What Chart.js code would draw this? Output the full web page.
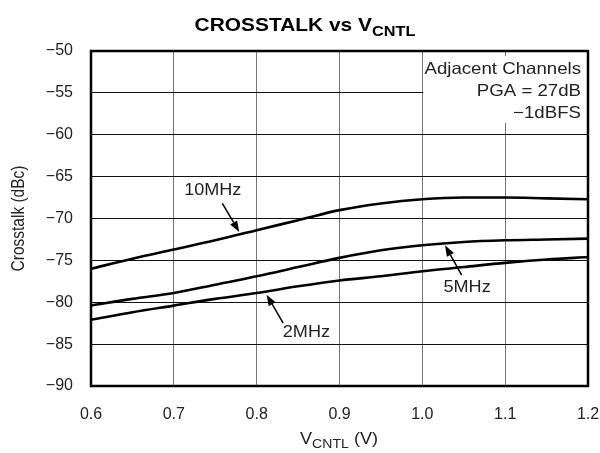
<!DOCTYPE html>
<html>
<head>
<meta charset="utf-8">
<script src="https://cdn.jsdelivr.net/npm/chart.js@4.4.0/dist/chart.umd.min.js"></script>
<style>
  html, body { margin: 0; padding: 0; background: #fff; }
  #wrap { width: 600px; height: 453px; }
</style>
</head>
<body>
<div id="wrap"><canvas id="chart" width="600" height="453"></canvas></div>
<script>
'use strict';
//****************************
// DATA
//****************************
var vcntl = [0.6, 0.65, 0.7, 0.75, 0.8, 0.85, 0.9, 0.95, 1.0, 1.05, 1.1, 1.15, 1.2];
var xt10MHz = [-76.0, -74.8, -73.7, -72.6, -71.4, -70.2, -69.0, -68.2, -67.7, -67.5, -67.5, -67.6, -67.7];
var xt5MHz = [-80.4, -79.6, -78.9, -77.9, -76.9, -75.8, -74.7, -73.8, -73.2, -72.8, -72.6, -72.5, -72.4];
var xt2MHz = [-82.1, -81.2, -80.4, -79.6, -78.9, -78.1, -77.4, -76.9, -76.3, -75.8, -75.3, -74.9, -74.6];
var seriesNames = ['10MHz', '5MHz', '2MHz'];
var noteLines = ['Adjacent Channels', 'PGA = 27dB', '\u22121dBFS'];

var FONT = '"Liberation Sans", Arial, Helvetica, sans-serif';
var STRETCH = 1.13; // the source text is a bit wide

function points(ys) {
  var out = [];
  for (var i = 0; i < vcntl.length; i++) {
    out.push({ x: vcntl[i], y: ys[i] });
  }
  return out;
}

function makeSet(label, ys) {
  return {
    label: label,
    data: points(ys),
    borderColor: '#000',
    borderWidth: 2.6,
    pointRadius: 0,
    tension: 0.4,
    cubicInterpolationMode: 'monotone',
    fill: false
  };
}

// plain text, widened a little
function wideText(ctx, text, x, y, align, size) {
  ctx.save();
  ctx.font = size + 'px ' + FONT;
  ctx.textAlign = align;
  ctx.textBaseline = 'middle';
  ctx.translate(x, y);
  ctx.scale(STRETCH, 1);
  ctx.fillText(text, 0, 0);
  ctx.restore();
}

// text with a subscript part, centred on cx
function subText(ctx, parts, cx, cy, size, bold) {
  var w = 0;
  var i;
  for (i = 0; i < parts.length; i++) {
    var s = parts[i].sub ? size * 0.78 : size;
    ctx.font = (bold ? 'bold ' : '') + s + 'px ' + FONT;
    parts[i].w = ctx.measureText(parts[i].t).width;
    parts[i].s = s;
    w += parts[i].w;
  }
  ctx.save();
  ctx.translate(cx, cy);
  ctx.scale(STRETCH, 1);
  var x = -w / 2;
  ctx.textBaseline = 'middle';
  ctx.textAlign = 'left';
  for (i = 0; i < parts.length; i++) {
    ctx.font = (bold ? 'bold ' : '') + parts[i].s + 'px ' + FONT;
    ctx.fillText(parts[i].t, x, parts[i].sub ? size * 0.3 : 0);
    x += parts[i].w;
  }
  ctx.restore();
}

function arrow(ctx, x1, y1, x2, y2) {
  var ang = Math.atan2(y2 - y1, x2 - x1);
  var len = 11;
  var hw = 4;
  var bx = x2 - Math.cos(ang) * len;
  var by = y2 - Math.sin(ang) * len;
  ctx.beginPath();
  ctx.moveTo(x1, y1);
  ctx.lineTo(bx, by);
  ctx.lineWidth = 1.5;
  ctx.strokeStyle = '#000';
  ctx.stroke();
  ctx.beginPath();
  ctx.moveTo(x2, y2);
  ctx.lineTo(bx + Math.sin(ang) * hw, by - Math.cos(ang) * hw);
  ctx.lineTo(bx - Math.sin(ang) * hw, by + Math.cos(ang) * hw);
  ctx.closePath();
  ctx.fillStyle = '#000';
  ctx.fill();
}

var notePlugin = {
  id: 'notes',
  beforeDatasetsDraw: function (chart) {
    var ctx = chart.ctx;
    var xs = chart.scales.x;
    var ys = chart.scales.y;
    var a = chart.chartArea;
    // white box behind the condition notes
    var left = xs.getPixelForValue(1.0);
    var bottom = ys.getPixelForValue(-59.2);
    var x11 = Math.round(xs.getPixelForValue(1.1)) + 0.5;
    ctx.save();
    ctx.fillStyle = '#fff';
    ctx.fillRect(left + 1, a.top, a.right - left - 1, bottom - a.top);
    ctx.strokeStyle = '#777';
    ctx.lineWidth = 1;
    ctx.beginPath();
    ctx.moveTo(x11, a.top);
    ctx.lineTo(x11, a.top + 5);
    ctx.moveTo(x11, bottom - 5);
    ctx.lineTo(x11, bottom);
    ctx.stroke();
    ctx.fillStyle = '#222';
    for (var i = 0; i < noteLines.length; i++) {
      wideText(ctx, noteLines[i], a.right - 7, a.top + 18 + i * 22, 'right', 16.5);
    }
    ctx.restore();
  },
  afterDatasetsDraw: function (chart) {
    var ctx = chart.ctx;
    var xs = chart.scales.x;
    var ys = chart.scales.y;
    var a = chart.chartArea;
    ctx.save();
    // curve labels and their arrows
    ctx.fillStyle = '#222';
    wideText(ctx, seriesNames[0], xs.getPixelForValue(0.747), ys.getPixelForValue(-66.7), 'center', 16);
    wideText(ctx, seriesNames[1], xs.getPixelForValue(1.054), ys.getPixelForValue(-78.3), 'center', 16);
    wideText(ctx, seriesNames[2], xs.getPixelForValue(0.86), ys.getPixelForValue(-83.6), 'center', 16);
    arrow(ctx, xs.getPixelForValue(0.7585), ys.getPixelForValue(-68.2), xs.getPixelForValue(0.779), ys.getPixelForValue(-71.6));
    arrow(ctx, xs.getPixelForValue(1.0475), ys.getPixelForValue(-76.75), xs.getPixelForValue(1.0274), ys.getPixelForValue(-73.2));
    arrow(ctx, xs.getPixelForValue(0.832), ys.getPixelForValue(-82.5), xs.getPixelForValue(0.812), ys.getPixelForValue(-79.1));
    // plot frame
    ctx.strokeStyle = '#000';
    ctx.lineWidth = 2.5;
    ctx.strokeRect(a.left, a.top, a.right - a.left, a.bottom - a.top);
    // titles
    ctx.fillStyle = '#000';
    subText(ctx, [{ t: 'CROSSTALK vs V' }, { t: 'CNTL', sub: true }], 305, 26, 18.5, true);
    ctx.fillStyle = '#222';
    subText(ctx, [{ t: 'V' }, { t: 'CNTL', sub: true }, { t: ' (V)' }], 339, 440, 16, false);
    ctx.save();
    ctx.translate(19, (a.top + a.bottom) / 2);
    ctx.rotate(-Math.PI / 2);
    ctx.scale(1, STRETCH);
    ctx.font = '15.5px ' + FONT;
    ctx.textAlign = 'center';
    ctx.textBaseline = 'middle';
    ctx.fillText('Crosstalk (dBc)', 0, 0);
    ctx.restore();
    ctx.restore();
  }
};

var ctx = document.getElementById('chart').getContext('2d');
var chart = new Chart(ctx, {
  type: 'line',
  data: {
    datasets: [
      makeSet(seriesNames[0], xt10MHz),
      makeSet(seriesNames[1], xt5MHz),
      makeSet(seriesNames[2], xt2MHz)
    ]
  },
  options: {
    responsive: false,
    animation: false,
    layout: { padding: { top: 51, right: 12, left: 0, bottom: 0 } },
    plugins: {
      legend: { display: false },
      title: { display: false },
      tooltip: { enabled: false }
    },
    scales: {
      x: {
        type: 'linear',
        min: 0.6,
        max: 1.2,
        afterFit: function (s) { s.height = 67; s.paddingLeft = 0; s.paddingRight = 0; },
        afterBuildTicks: function (s) {
          s.ticks = vcntl.filter(function (v, i) { return i % 2 === 0; }).map(function (v) { return { value: v }; });
        },
        grid: { color: '#777', lineWidth: 1, drawTicks: false },
        border: { display: false },
        ticks: {
          padding: 19,
          color: '#222',
          font: { family: FONT, size: 16 },
          callback: function (v) { return Number(v).toFixed(1); }
        }
      },
      y: {
        min: -90,
        max: -50,
        afterFit: function (s) { s.width = 91; s.paddingTop = 0; s.paddingBottom = 0; },
        grid: { color: '#111', lineWidth: 1, drawTicks: false },
        border: { display: false },
        ticks: {
          stepSize: 5,
          padding: 18,
          color: '#222',
          font: { family: FONT, size: 16 },
          callback: function (v) { return v < 0 ? '\u2212' + Math.abs(v) : String(v); }
        }
      }
    }
  },
  plugins: [notePlugin]
});
</script>
</body>
</html>
